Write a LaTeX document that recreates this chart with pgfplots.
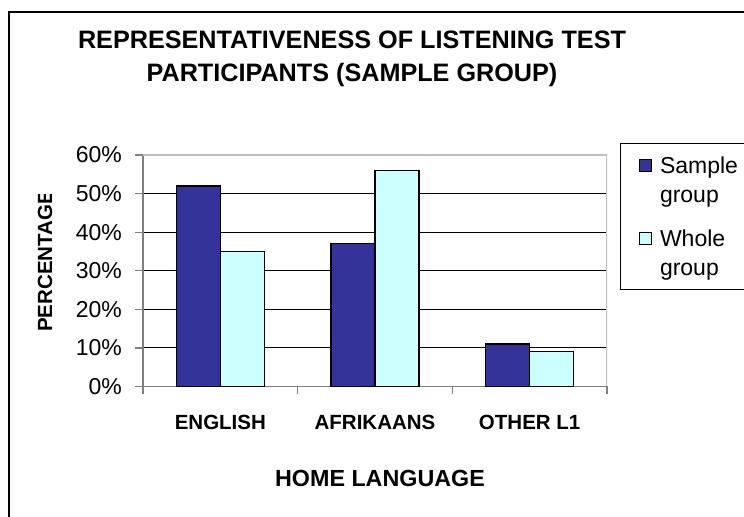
\documentclass[border=0pt]{standalone}
\usepackage{fontspec}
\setmainfont{Liberation Sans}
\usepackage{pgfplots}
\pgfplotsset{compat=1.18}

\definecolor{samplebar}{HTML}{333399}
\definecolor{wholebar}{HTML}{CCFFFF}
\definecolor{axisgray}{HTML}{808080}
\definecolor{bordergray}{HTML}{C0C0C0}

% Share of each home language: sample group vs. whole group (percent)
\pgfplotstableread{
x sample whole
0 52 35
1 37 56
2 11 9
}\langdata

\begin{document}
\begin{tikzpicture}[x=1bp,y=1bp]
\useasboundingbox (0,0) rectangle (744,517);
% chart frame
\draw[line width=1.2bp] (9,-10) -- (9,505) -- (760,505);

% title
\node[anchor=base, font=\fontsize{25.2bp}{30bp}\selectfont\bfseries] at (352,468) {REPRESENTATIVENESS OF LISTENING TEST};
\node[anchor=base, font=\fontsize{25.2bp}{30bp}\selectfont\bfseries] at (352,435) {PARTICIPANTS (SAMPLE GROUP)};

% axis titles
\node[anchor=base, font=\fontsize{23.3bp}{28bp}\selectfont\bfseries] at (380,30) {HOME LANGUAGE};
\begin{scope}
  \clip (20,150) rectangle (70,322);
  \node[anchor=base west, rotate=90, inner sep=0pt, font=\fontsize{20.5bp}{24bp}\selectfont\bfseries] at (52,185) {PERCENTAGE};
\end{scope}

\begin{axis}[
  at={(143bp,130.5bp)}, anchor=south west,
  width=464bp, height=231.5bp, scale only axis,
  xmin=-0.5, xmax=2.5, ymin=0, ymax=60,
  ybar=0pt, bar width=0.284,
  axis x line*=bottom, axis y line*=left,
  axis line style={draw=axisgray, line width=1.6bp, -},
  tick align=outside,
  major tick length=8bp,
  tick style={draw=axisgray, line width=1.2bp},
  xtick={-0.5,0.5,1.5,2.5}, xticklabels={},
  extra x ticks={0,1,2},
  extra x tick labels={ENGLISH,AFRIKAANS,OTHER L1},
  extra x tick style={major tick length=0pt,
    tick label style={font=\fontsize{20.5bp}{24bp}\selectfont\bfseries, anchor=base, inner sep=0pt, yshift=-43.5bp}},
  ytick={0,10,...,60},
  yticklabel={\pgfmathprintnumber{\tick}\%},
  /pgf/number format/assume math mode=true,
  yticklabel style={font=\fontsize{23bp}{28bp}\selectfont, anchor=east, inner sep=0pt, xshift=-13bp},
  ymajorgrids,
  grid style={draw=black, line width=1bp},
  legend style={at={(1,1)}, anchor=north west, xshift=13bp, yshift=12bp,
    draw=black, line width=1bp, inner xsep=18bp, inner ysep=11bp,
    font=\fontsize{23bp}{29bp}\selectfont, row sep=22bp,
    cells={anchor=west, align=left}},
  % swatch sits beside the first line of each two-line entry
  legend image code/.code={%
    \path[draw=none, fill=none] (0bp,8.5bp) rectangle (19bp,21bp);
    \draw[#1, draw=black, line width=1bp] (0bp,8.5bp) rectangle (12.5bp,21bp);},
]
\addplot[fill=samplebar, draw=black, line width=1.4bp] table[x=x, y=sample] {\langdata};
\addlegendentry{Sample\\group}
\addplot[fill=wholebar, draw=black, line width=1.4bp] table[x=x, y=whole] {\langdata};
\addlegendentry{Whole\\group}
% plot area border on top and right
\draw[bordergray, line width=1.6bp] (rel axis cs:0,1) -- (rel axis cs:1,1) -- (rel axis cs:1,0);
\end{axis}
\end{tikzpicture}
\end{document}
